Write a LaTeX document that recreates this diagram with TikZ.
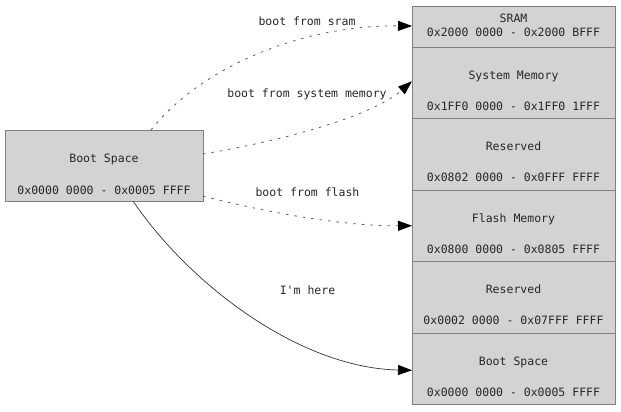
\documentclass[tikz,border=0pt]{standalone}
\usepackage{fontspec}
\setmonofont{DejaVu Sans Mono}
\usepackage{xcolor}
\usetikzlibrary{arrows.meta,calc,positioning}
\definecolor{boxfill}{RGB}{211,211,211}
\definecolor{boxline}{RGB}{128,128,128}
\tikzset{%
	membox/.style = {draw=boxline, fill=boxfill, rectangle, line width=0.9pt, inner sep=0pt, outer sep=0pt, minimum width=203pt, minimum height=71.5pt},
	memtxt/.style = {inner sep=0pt, text height=8.4pt, text depth=0pt, font=\ttfamily\fontsize{11.5}{14}\selectfont, text=black!85},
	boot/.style   = {line width=0.8pt, black!65, dash pattern=on 2.5pt off 6pt, -{Triangle[length=14pt,width=10pt,black]}},
	here/.style   = {line width=0.7pt, black!80, -{Triangle[length=14pt,width=10pt,black]}},
}
\begin{document}
\begin{tikzpicture}[x=1pt,y=-1pt]
	\useasboundingbox (0,0) rectangle (621,412);
	% left box
	\node[membox, minimum width=198pt, minimum height=71pt] (boot) at (104,165.5) {};
	\node[memtxt] (boott) at ([yshift=-28pt]boot.north) {Boot Space};
	\node[memtxt] (boota) at ([yshift=-60pt]boot.north) {0x0000 0000 - 0x0005 FFFF};
	% memory map
	\node[membox, minimum height=41pt] (sram) at (513.5,26.5) {};
	\node[membox, below=0pt of sram] (sysmem) {};
	\node[membox, below=0pt of sysmem] (resv) {};
	\node[membox, below=0pt of resv] (flash) {};
	\node[membox, below=0pt of flash] (resvb) {};
	\node[membox, below=0pt of resvb] (bootsp) {};
	\node[memtxt] (sramt) at ([yshift=-12pt]sram.north) {SRAM};
	\node[memtxt] (srama) at ([yshift=-26.5pt]sram.north) {0x2000 0000 - 0x2000 BFFF};
	\node[memtxt] (sysmemt) at ([yshift=-28pt]sysmem.north) {System Memory};
	\node[memtxt] (sysmema) at ([yshift=-59pt]sysmem.north) {0x1FF0 0000 - 0x1FF0 1FFF};
	\node[memtxt] (resvt) at ([yshift=-28pt]resv.north) {Reserved};
	\node[memtxt] (resva) at ([yshift=-59pt]resv.north) {0x0802 0000 - 0x0FFF FFFF};
	\node[memtxt] (flasht) at ([yshift=-28pt]flash.north) {Flash Memory};
	\node[memtxt] (flasha) at ([yshift=-59pt]flash.north) {0x0800 0000 - 0x0805 FFFF};
	\node[memtxt] (resvbt) at ([yshift=-28pt]resvb.north) {Reserved};
	\node[memtxt] (resvba) at ([yshift=-59pt]resvb.north) {0x0002 0000 - 0x07FFF FFFF};
	\node[memtxt] (bootspt) at ([yshift=-28pt]bootsp.north) {Boot Space};
	\node[memtxt] (bootspa) at ([yshift=-59pt]bootsp.north) {0x0000 0000 - 0x0005 FFFF};
	% edges
	\draw[boot] ([xshift=47pt]boot.north) .. controls (200,68) and (300,25) .. ([yshift=0.5pt]sram.west);
	\draw[boot] ([yshift=11.5pt]boot.east) .. controls (275,142) and (370,118) .. ([yshift=1.5pt]sysmem.west);
	\draw[boot] ([yshift=-30.5pt]boot.east) .. controls (265,212) and (340,226) .. (flash.west);
	\draw[here] ([xshift=29pt]boot.south) .. controls (190,285) and (300,368) .. ([yshift=-1.5pt]bootsp.west);
	\node[memtxt] (lsram) at (307,21) {boot from sram};
	\node[memtxt] (lsysmem) at (307,93) {boot from system memory};
	\node[memtxt] (lflash) at (307.5,192) {boot from flash};
	\node[memtxt] (lhere) at (307.5,290.5) {I'm here};
\end{tikzpicture}
\end{document}
